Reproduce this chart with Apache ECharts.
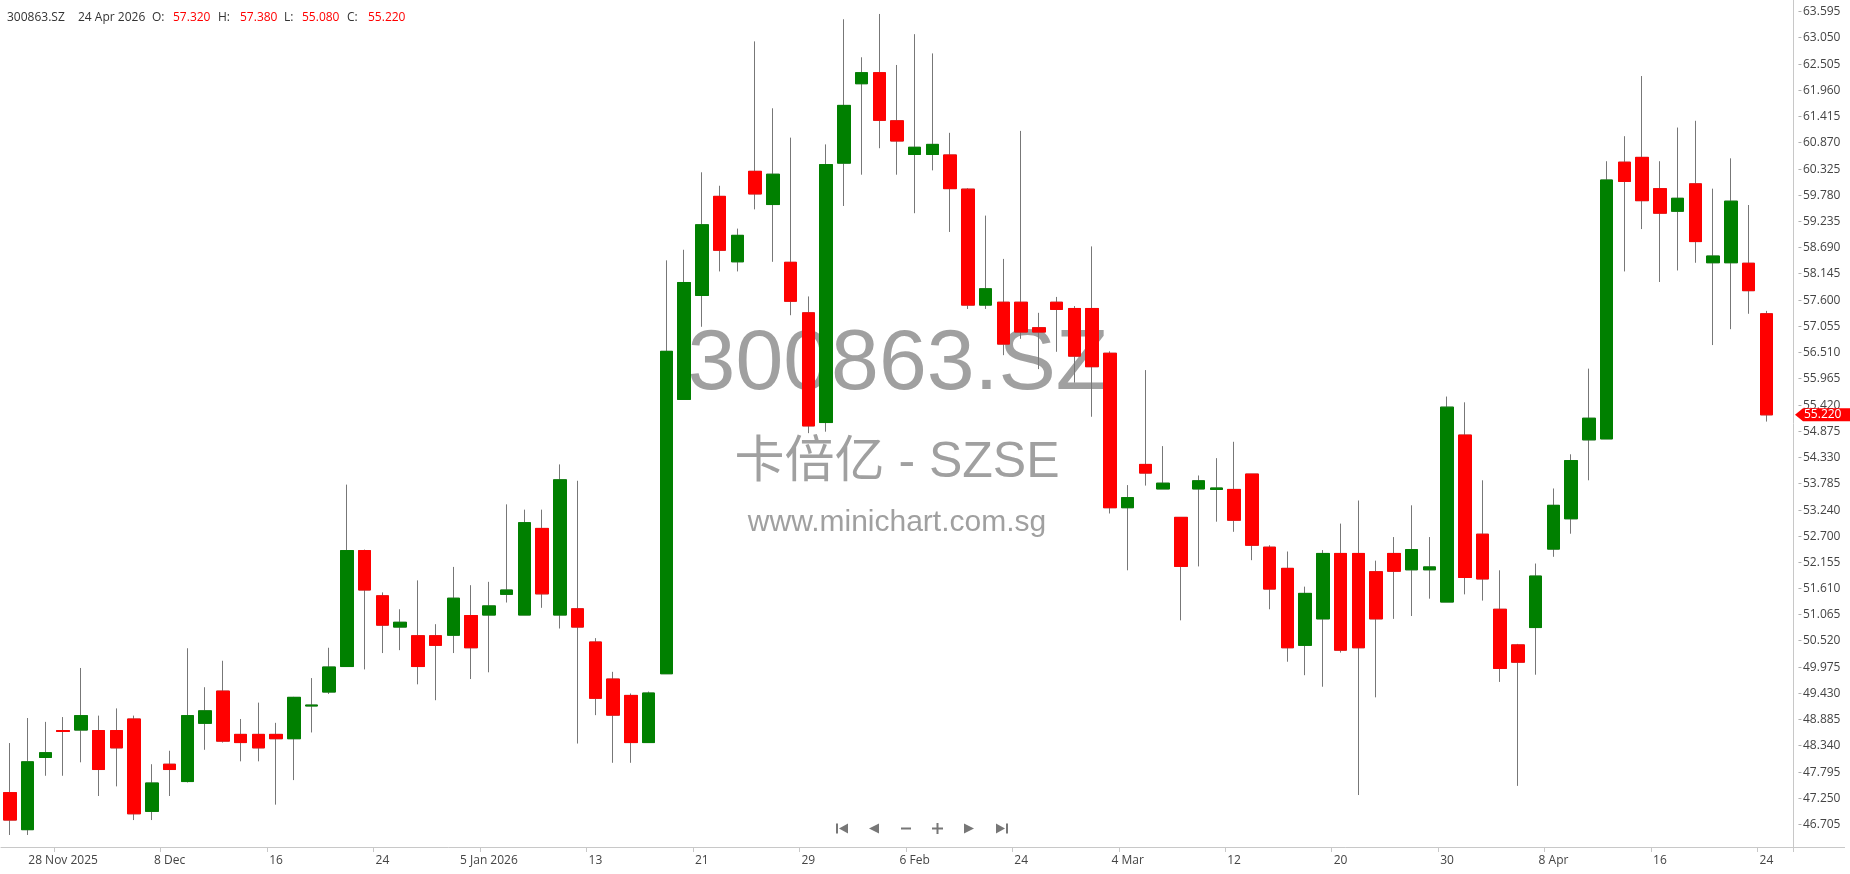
<!DOCTYPE html>
<html>
<head>
<meta charset="utf-8">
<title>300863.SZ</title>
<script src="https://cdn.jsdelivr.net/npm/echarts@6.0.0/dist/echarts.min.js"></script>
<style>
  * { margin: 0; padding: 0; }
  html, body { background: #fff; overflow: hidden; }
  #chart { width: 1850px; height: 874px; }
</style>
</head>
<body>
<div id="chart"></div>
<script>
  var symbol = '300863.SZ';
  var exchangeName = '卡倍亿 - SZSE';
  var siteName = 'www.minichart.com.sg';

  // trading days, 25 Nov 2025 - 24 Apr 2026
  var dates = [
    '2025-11-25','2025-11-26','2025-11-27','2025-11-28',
    '2025-12-01','2025-12-02','2025-12-03','2025-12-04','2025-12-05','2025-12-08','2025-12-09','2025-12-10',
    '2025-12-11','2025-12-12','2025-12-15','2025-12-16','2025-12-17','2025-12-18','2025-12-19','2025-12-22',
    '2025-12-23','2025-12-24','2025-12-25','2025-12-26','2025-12-29','2025-12-30','2025-12-31',
    '2026-01-05','2026-01-06','2026-01-07','2026-01-08','2026-01-09','2026-01-12','2026-01-13','2026-01-14',
    '2026-01-15','2026-01-16','2026-01-19','2026-01-20','2026-01-21','2026-01-22','2026-01-23','2026-01-26',
    '2026-01-27','2026-01-28','2026-01-29','2026-01-30',
    '2026-02-02','2026-02-03','2026-02-04','2026-02-05','2026-02-06','2026-02-09','2026-02-10','2026-02-11',
    '2026-02-12','2026-02-13','2026-02-24','2026-02-25','2026-02-26','2026-02-27',
    '2026-03-02','2026-03-03','2026-03-04','2026-03-05','2026-03-06','2026-03-09','2026-03-10','2026-03-11',
    '2026-03-12','2026-03-13','2026-03-16','2026-03-17','2026-03-18','2026-03-19','2026-03-20','2026-03-23',
    '2026-03-24','2026-03-25','2026-03-26','2026-03-27','2026-03-30','2026-03-31',
    '2026-04-01','2026-04-02','2026-04-03','2026-04-07','2026-04-08','2026-04-09','2026-04-10','2026-04-13',
    '2026-04-14','2026-04-15','2026-04-16','2026-04-17','2026-04-20','2026-04-21','2026-04-22','2026-04-23',
    '2026-04-24'
  ];

  var opens = [
    47.37, 46.60, 48.10, 48.66, 48.67, 48.66, 48.66, 48.90, 46.98, 47.96,
    47.60, 48.81, 49.48, 48.58, 48.58, 48.58, 48.49, 49.17, 49.46, 49.99,
    52.40, 51.46, 50.81, 50.63, 50.63, 50.64, 51.05, 51.06, 51.49, 51.06,
    52.86, 51.06, 51.19, 50.50, 49.73, 49.39, 48.41, 49.84, 55.54, 57.70,
    59.76, 58.40, 60.28, 59.59, 58.39, 57.34, 55.06, 60.45, 62.10, 62.33,
    61.33, 60.63, 60.63, 60.62, 59.91, 57.50, 57.56, 57.56, 57.03, 57.56,
    57.43, 57.43, 56.50, 53.29, 54.19, 53.68, 53.09, 53.68, 53.67, 53.67,
    53.99, 52.47, 52.03, 50.43, 50.98, 52.34, 52.34, 51.96, 52.34, 52.00,
    52.00, 51.33, 54.80, 52.74, 51.18, 50.44, 50.80, 52.43, 53.06, 54.70,
    54.72, 60.47, 60.57, 59.92, 59.45, 60.02, 58.38, 58.38, 58.37, 57.32
  ];
  var highs = [
    48.40, 48.92, 48.84, 48.94, 49.96, 48.97, 49.12, 48.97, 47.96, 48.24,
    50.37, 49.56, 50.11, 48.90, 49.24, 48.82, 49.36, 49.75, 50.38, 53.77,
    52.42, 51.53, 51.18, 51.78, 50.87, 52.06, 51.68, 51.75, 53.36, 53.25,
    53.25, 54.19, 53.85, 50.58, 49.88, 49.43, 49.47, 58.43, 58.65, 60.26,
    59.98, 59.09, 62.98, 61.59, 60.98, 57.68, 60.84, 63.44, 62.65, 63.55,
    62.49, 63.13, 62.73, 61.08, 59.93, 59.36, 58.46, 61.12, 57.34, 57.67,
    57.48, 58.72, 56.54, 53.76, 56.15, 54.57, 53.09, 53.96, 54.32, 54.66,
    53.99, 52.51, 52.38, 51.65, 52.41, 52.96, 53.44, 52.19, 52.68, 53.34,
    52.68, 55.60, 55.48, 53.86, 51.99, 50.46, 52.13, 53.69, 54.40, 56.18,
    60.49, 61.01, 62.26, 60.49, 61.19, 61.33, 59.92, 60.55, 59.58, 57.38
  ];
  var lows = [
    46.49, 46.49, 47.72, 47.72, 48.00, 47.30, 47.50, 46.80, 46.80, 47.30,
    47.58, 48.26, 48.41, 48.02, 48.02, 47.12, 47.63, 48.62, 49.42, 49.99,
    49.93, 50.27, 50.33, 49.62, 49.29, 50.27, 49.73, 49.87, 51.32, 51.06,
    51.21, 50.78, 48.39, 48.98, 47.99, 47.99, 48.41, 49.84, 55.54, 57.05,
    58.20, 58.20, 59.49, 58.40, 57.29, 54.84, 54.87, 59.56, 60.21, 60.76,
    60.21, 59.41, 60.30, 59.02, 57.42, 57.42, 56.46, 56.80, 56.17, 56.53,
    55.89, 55.18, 53.17, 51.99, 53.75, 53.68, 50.95, 52.07, 53.00, 52.79,
    52.20, 51.18, 50.09, 49.81, 49.57, 50.28, 47.32, 49.35, 50.98, 51.04,
    51.40, 51.33, 51.49, 51.36, 49.67, 47.51, 49.82, 52.27, 52.75, 53.86,
    54.72, 58.20, 59.08, 57.98, 58.22, 58.38, 56.67, 57.00, 57.32, 55.08
  ];
  var closes = [
    46.80, 48.01, 48.20, 48.64, 48.97, 47.85, 48.30, 46.93, 47.57, 47.85,
    48.97, 49.07, 48.44, 48.41, 48.30, 48.49, 49.35, 49.19, 49.98, 52.40,
    51.58, 50.85, 50.91, 49.99, 50.43, 51.41, 50.38, 51.25, 51.58, 52.98,
    51.50, 53.87, 50.81, 49.33, 48.98, 48.41, 49.44, 56.54, 57.97, 59.17,
    58.64, 58.95, 59.81, 60.22, 57.58, 54.99, 60.42, 61.65, 62.33, 61.34,
    60.91, 60.78, 60.84, 59.92, 57.50, 57.84, 56.69, 56.94, 56.94, 57.41,
    56.44, 56.22, 53.29, 53.50, 54.01, 53.80, 52.07, 53.85, 53.70, 53.03,
    52.51, 51.60, 50.38, 51.51, 52.34, 50.33, 50.38, 50.98, 51.97, 52.42,
    52.06, 55.38, 51.84, 51.81, 49.95, 50.08, 51.87, 53.34, 54.27, 55.15,
    60.10, 60.07, 59.67, 59.41, 59.72, 58.82, 58.52, 59.66, 57.80, 55.22
  ];

  // date axis labels
  var xTickDates = ['2025-11-28','2025-12-08','2025-12-16','2025-12-24','2026-01-05','2026-01-13','2026-01-21',
    '2026-01-29','2026-02-06','2026-02-24','2026-03-04','2026-03-12','2026-03-20','2026-03-30','2026-04-08',
    '2026-04-16','2026-04-24'];
  var xTickLabels = ['28 Nov 2025','8 Dec','16','24','5 Jan 2026','13','21','29','6 Feb','24','4 Mar','12','20',
    '30','8 Apr','16','24'];

  // price axis labels
  var yTickValues = [63.595, 63.050, 62.505, 61.960, 61.415, 60.870, 60.325, 59.780, 59.235, 58.690, 58.145,
    57.600, 57.055, 56.510, 55.965, 55.420, 54.875, 54.330, 53.785, 53.240, 52.700, 52.155, 51.610, 51.065,
    50.520, 49.975, 49.430, 48.885, 48.340, 47.795, 47.250, 46.705];

  var UP = '#008000', DOWN = '#ff0000', WICK = '#777777', AXIS = '#c8c8c8', TEXT = '#444444', NAV = '#777777';
  var FONT = '"Open Sans", "Noto Sans", sans-serif';
  var MARK_FONT = '"Liberation Sans", Arial, "Noto Sans CJK SC", sans-serif';
  var MONTHS = ['Jan','Feb','Mar','Apr','May','Jun','Jul','Aug','Sep','Oct','Nov','Dec'];

  function fmtDate(s) {
    var p = s.split('-');
    return parseInt(p[2], 10) + ' ' + MONTHS[parseInt(p[1], 10) - 1] + ' ' + p[0];
  }

  // one empty slot on the right, before the price axis
  var categories = dates.concat(['']);
  var wickData = dates.map(function (d, i) {
    return [opens[i], closes[i], lows[i], highs[i]];
  });
  var bodyData = dates.map(function (d, i) {
    return [opens[i], closes[i], Math.min(opens[i], closes[i]), Math.max(opens[i], closes[i])];
  });
  var last = dates.length - 1;

  var chart = echarts.init(document.getElementById('chart'));
  chart.setOption({
    animation: false,
    backgroundColor: '#ffffff',
    grid: { left: 1, right: 57, top: 0, bottom: 27, outerBoundsMode: 'none' },
    xAxis: {
      type: 'category',
      data: categories,
      boundaryGap: true,
      axisLine: { show: true, lineStyle: { color: AXIS, width: 1 } },
      axisTick: {
        show: true, length: 5, lineStyle: { color: AXIS },
        interval: function (i, v) { return xTickDates.indexOf(v) >= 0; }
      },
      axisLabel: {
        interval: function (i, v) { return xTickDates.indexOf(v) >= 0; },
        formatter: function (v) {
          var k = xTickDates.indexOf(v);
          return k >= 0 ? xTickLabels[k] : '';
        },
        color: TEXT, fontSize: 12, fontFamily: FONT, margin: 8
      },
      splitLine: { show: false }
    },
    yAxis: {
      type: 'value',
      position: 'right',
      scale: true,
      min: 46.24,
      max: 63.84,
      axisLine: { show: true, lineStyle: { color: AXIS, width: 1 } },
      axisTick: { show: false },
      splitLine: { show: false },
      axisLabel: {
        customValues: yTickValues,
        margin: 5,
        formatter: function (v) { return '{t|-}{v|' + v.toFixed(3) + '}'; },
        rich: {
          t: { color: '#aaaaaa', fontSize: 12, fontFamily: FONT, width: 5 },
          v: { color: TEXT, fontSize: 12, fontFamily: FONT }
        }
      }
    },
    series: [
      {
        // wicks, gray
        name: 'wick',
        type: 'candlestick',
        data: wickData,
        barWidth: 13,
        silent: true,
        itemStyle: { color: WICK, color0: WICK, borderColor: WICK, borderColor0: WICK, borderColorDoji: WICK, borderWidth: 1 }
      },
      {
        // coloured bodies
        name: symbol,
        type: 'candlestick',
        data: bodyData,
        barWidth: 13,
        silent: true,
        itemStyle: { color: UP, color0: DOWN, borderColor: UP, borderColor0: DOWN, borderColorDoji: WICK, borderWidth: 1 }
      }
    ]
  });

  // header line with last bar values
  var header = [
    [symbol, 7, '#333333'],
    [fmtDate(dates[last]), 78, '#333333'],
    ['O:', 152, '#333333'], [opens[last].toFixed(3), 173, DOWN],
    ['H:', 218, '#333333'], [highs[last].toFixed(3), 240, DOWN],
    ['L:', 284, '#333333'], [lows[last].toFixed(3), 302, DOWN],
    ['C:', 347, '#333333'], [closes[last].toFixed(3), 368, DOWN]
  ];

  var graphics = [
    { type: 'text', z: 0, silent: true, x: 898, y: 365,
      style: { text: symbol, fontSize: 86, fontFamily: MARK_FONT, fill: '#a0a0a0', align: 'center', verticalAlign: 'middle' } },
    { type: 'text', z: 0, silent: true, x: 897, y: 463,
      style: { text: exchangeName, fontSize: 50, fontFamily: MARK_FONT, fill: '#a0a0a0', align: 'center', verticalAlign: 'middle' } },
    { type: 'text', z: 0, silent: true, x: 897, y: 523,
      style: { text: siteName, fontSize: 30, fontFamily: MARK_FONT, fill: '#a0a0a0', align: 'center', verticalAlign: 'middle' } },
    // x axis line continues under the price labels
    { type: 'line', silent: true, shape: { x1: 1793, y1: 847.5, x2: 1845, y2: 847.5 }, style: { stroke: AXIS, lineWidth: 1 } },
    // navigation buttons
    { type: 'rect', silent: true, shape: { x: 836, y: 823.5, width: 2, height: 10 }, style: { fill: NAV } },
    { type: 'polygon', silent: true, shape: { points: [[839, 828.5], [848, 823.5], [848, 833.5]] }, style: { fill: NAV } },
    { type: 'polygon', silent: true, shape: { points: [[869, 828.5], [879, 823.5], [879, 833.5]] }, style: { fill: NAV } },
    { type: 'rect', silent: true, shape: { x: 901, y: 827.5, width: 10, height: 2 }, style: { fill: NAV } },
    { type: 'rect', silent: true, shape: { x: 932, y: 827.5, width: 11, height: 2 }, style: { fill: NAV } },
    { type: 'rect', silent: true, shape: { x: 936.5, y: 823, width: 2, height: 11 }, style: { fill: NAV } },
    { type: 'polygon', silent: true, shape: { points: [[974, 828.5], [964, 823.5], [964, 833.5]] }, style: { fill: NAV } },
    { type: 'polygon', silent: true, shape: { points: [[1005, 828.5], [996, 823.5], [996, 833.5]] }, style: { fill: NAV } },
    { type: 'rect', silent: true, shape: { x: 1006, y: 823.5, width: 2, height: 10 }, style: { fill: NAV } }
  ];

  header.forEach(function (h) {
    graphics.push({ type: 'text', z: 50, silent: true, x: h[1], y: 18,
      style: { text: h[0], fontSize: 12, fontFamily: FONT, fill: h[2], align: 'left', verticalAlign: 'middle' } });
  });

  // last price tag on the price axis
  var lastY = chart.convertToPixel({ yAxisIndex: 0 }, closes[last]);
  graphics.push({ type: 'polygon', z: 100, silent: true,
    shape: { points: [[1795, lastY], [1803, lastY - 6.5], [1850, lastY - 6.5], [1850, lastY + 6.5], [1803, lastY + 6.5]] },
    style: { fill: DOWN } });
  graphics.push({ type: 'text', z: 101, silent: true, x: 1804, y: lastY,
    style: { text: closes[last].toFixed(3), fontSize: 12, fontFamily: FONT, fill: '#ffffff', align: 'left', verticalAlign: 'middle' } });

  chart.setOption({ graphic: graphics });
</script>
</body>
</html>
